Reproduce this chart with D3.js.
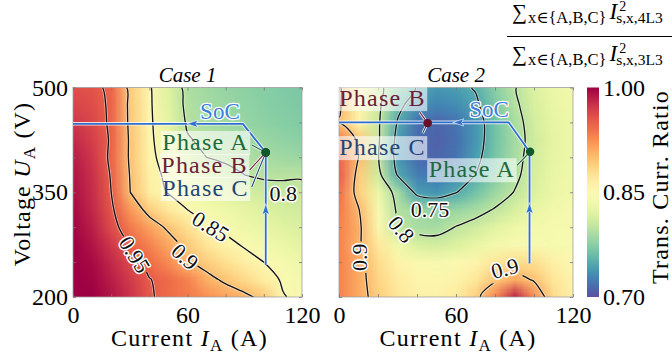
<!DOCTYPE html>
<html>
<head>
<meta charset="utf-8">
<script src="https://cdn.jsdelivr.net/npm/d3@7/dist/d3.min.js"></script>
<style>
  body { margin: 0; background: #fff; }
  svg { font-family: "Liberation Serif", "DejaVu Serif", serif; }
</style>
</head>
<body>
<svg id="chart" width="672" height="356"></svg>
<script>
// grid of the maps: columns = current (A), rows = voltage (V), top row first
const currents = [0, 10, 20, 30, 40, 50, 60, 70, 80, 90, 100, 110, 120];
const voltages = [500, 475, 450, 425, 400, 375, 350, 325, 300, 275, 250, 225, 200];

// transformer current ratio sum(I^2 4L3) / sum(I^2 3L3)
const case1Ratio = [
  [0.958, 0.956, 0.945, 0.890, 0.854, 0.818, 0.792, 0.786, 0.781, 0.777, 0.774, 0.771, 0.769],
  [0.965, 0.960, 0.946, 0.892, 0.855, 0.820, 0.794, 0.788, 0.783, 0.779, 0.775, 0.772, 0.770],
  [0.972, 0.963, 0.946, 0.893, 0.856, 0.823, 0.797, 0.791, 0.786, 0.781, 0.777, 0.774, 0.772],
  [0.980, 0.968, 0.947, 0.895, 0.857, 0.828, 0.802, 0.795, 0.791, 0.787, 0.783, 0.779, 0.776],
  [0.986, 0.972, 0.945, 0.895, 0.858, 0.836, 0.818, 0.800, 0.796, 0.793, 0.789, 0.786, 0.783],
  [0.990, 0.976, 0.948, 0.898, 0.862, 0.843, 0.830, 0.818, 0.807, 0.800, 0.797, 0.797, 0.798],
  [0.992, 0.978, 0.950, 0.900, 0.865, 0.848, 0.838, 0.828, 0.820, 0.813, 0.808, 0.806, 0.805],
  [0.995, 0.980, 0.955, 0.920, 0.890, 0.870, 0.850, 0.840, 0.832, 0.825, 0.818, 0.813, 0.810],
  [0.997, 0.985, 0.960, 0.935, 0.915, 0.895, 0.877, 0.853, 0.842, 0.833, 0.826, 0.820, 0.815],
  [1.000, 0.990, 0.972, 0.948, 0.930, 0.912, 0.892, 0.873, 0.860, 0.846, 0.838, 0.830, 0.823],
  [1.000, 0.995, 0.980, 0.962, 0.942, 0.926, 0.903, 0.890, 0.877, 0.864, 0.850, 0.840, 0.832],
  [1.000, 0.998, 0.985, 0.970, 0.951, 0.942, 0.930, 0.908, 0.895, 0.882, 0.866, 0.846, 0.838],
  [1.000, 1.000, 0.990, 0.975, 0.953, 0.942, 0.935, 0.925, 0.915, 0.906, 0.893, 0.852, 0.842]
];
const case2Ratio = [
  [0.905, 0.860, 0.810, 0.775, 0.748, 0.738, 0.742, 0.752, 0.775, 0.798, 0.818, 0.830, 0.838],
  [0.905, 0.858, 0.808, 0.758, 0.735, 0.728, 0.732, 0.745, 0.770, 0.795, 0.815, 0.828, 0.835],
  [0.898, 0.860, 0.805, 0.748, 0.718, 0.712, 0.720, 0.738, 0.765, 0.790, 0.812, 0.826, 0.833],
  [0.935, 0.895, 0.805, 0.740, 0.715, 0.710, 0.718, 0.738, 0.765, 0.788, 0.810, 0.825, 0.832],
  [0.945, 0.900, 0.802, 0.738, 0.715, 0.712, 0.720, 0.742, 0.768, 0.790, 0.812, 0.826, 0.833],
  [0.950, 0.890, 0.810, 0.748, 0.725, 0.722, 0.732, 0.750, 0.772, 0.793, 0.815, 0.828, 0.834],
  [0.940, 0.888, 0.830, 0.788, 0.742, 0.736, 0.749, 0.765, 0.785, 0.801, 0.818, 0.830, 0.836],
  [0.935, 0.902, 0.845, 0.795, 0.785, 0.778, 0.782, 0.790, 0.802, 0.815, 0.828, 0.837, 0.840],
  [0.930, 0.908, 0.850, 0.802, 0.790, 0.789, 0.801, 0.810, 0.822, 0.832, 0.838, 0.840, 0.840],
  [0.930, 0.905, 0.870, 0.835, 0.815, 0.812, 0.818, 0.828, 0.838, 0.845, 0.845, 0.840, 0.840],
  [0.930, 0.910, 0.880, 0.860, 0.848, 0.845, 0.848, 0.858, 0.872, 0.880, 0.878, 0.862, 0.850],
  [0.930, 0.910, 0.885, 0.867, 0.857, 0.855, 0.860, 0.872, 0.895, 0.912, 0.897, 0.872, 0.858],
  [0.930, 0.910, 0.890, 0.872, 0.862, 0.860, 0.868, 0.890, 0.930, 0.985, 0.925, 0.880, 0.862]
];

const case1Levels = [0.8, 0.85, 0.9, 0.95];
const case2Levels = [0.75, 0.8, 0.9];

const xTicks = [0, 60, 120];
const xMinorTicks = [0, 20, 40, 60, 80, 100, 120];
const yTicks = [200, 350, 500];
const yMinorTicks = [200, 250, 300, 350, 400, 450, 500];
const colorTicks = [0.70, 0.85, 1.00];

// state-of-charge trajectory [current, voltage]
const case1Soc = [[101, 246], [101, 407], [89, 448], [0, 448]];
const case2Soc = [[97.7, 248], [97.7, 408], [87, 450], [0, 450]];

// final operating point of every phase [name, current, voltage]
const case1Phases = [["Phase A", 101, 407], ["Phase B", 101, 407], ["Phase C", 101, 407]];
const case2Phases = [["Phase A", 98, 408], ["Phase B", 45.5, 449], ["Phase C", 45.5, 449]];

// contour label spots [level, current, voltage, angle]
const case1Labels = [[0.95, 32.4, 261, 58], [0.9, 58.7, 258, 42], [0.85, 72.2, 301, 32], [0.8, 110.2, 348, 0]];
const case2Labels = [[0.9, 10.5, 257, -90], [0.8, 32, 297, 50], [0.75, 46.7, 325, 0], [0.9, 85, 241, -15]];

const svg = d3.select("#chart");
const plotTop = 87.5, plotBottom = 297;
const y = d3.scaleLinear().domain([200, 500]).range([plotBottom, plotTop]);
const color = d3.scaleSequential(t => d3.interpolateSpectral(1 - t)).domain([0.70, 1.00]).clamp(true);
const phaseText = { "Phase A": "#1e6a3c", "Phase B": "#6c1d3a", "Phase C": "#1f4677" };
const phaseDot = { "Phase A": "#0e5a2c", "Phase B": "#6a0f28", "Phase C": "#1f4677" };
const socBlue = "#2f6fcc";
const defs = svg.append("defs");

const panels = [
  { id: "c1", title: "Case 1", left: 73, right: 302, ratio: case1Ratio, levels: case1Levels,
    soc: case1Soc, phases: case1Phases, labels: case1Labels,
    // text end offset from the point, leader start offset from text end
    notes: { "Phase A": [-17, -2.5, 3, -5], "Phase B": [-18, 20.5, 2, -3], "Phase C": [-17, 43.5, 3, -9] } },
  { id: "c2", title: "Case 2", left: 339, right: 573, ratio: case2Ratio, levels: case2Levels,
    soc: case2Soc, phases: case2Phases, labels: case2Labels,
    notes: { "Phase A": [-15, 25.5, 2, -12], "Phase B": [-2, -17, -6, 6], "Phase C": [-2, 32, -3, -22] } }
];

function halo(sel, w) {
  return sel.attr("stroke", "#fff").attr("stroke-width", w).attr("stroke-linejoin", "round").attr("paint-order", "stroke");
}

function fieldImage(grid) {
  const rows = grid.length, cols = grid[0].length;
  const cv = document.createElement("canvas");
  cv.width = cols; cv.height = rows;
  const ctx = cv.getContext("2d");
  const img = ctx.createImageData(cols, rows);
  grid.forEach((row, j) => row.forEach((v, i) => {
    const c = d3.rgb(color(v)), k = 4 * (j * cols + i);
    img.data[k] = c.r; img.data[k + 1] = c.g; img.data[k + 2] = c.b; img.data[k + 3] = 255;
  }));
  ctx.putImageData(img, 0, 0);
  return cv.toDataURL();
}

function tickStyle(sel) {
  sel.select(".domain").remove();
  sel.selectAll(".tick line").attr("stroke", "#777").attr("stroke-width", 0.8);
}
function labelStyle(sel) {
  sel.attr("font-family", null).attr("font-size", 24);
  sel.select(".domain").remove();
  sel.selectAll(".tick line").remove();
}

panels.forEach(p => {
  const x = d3.scaleLinear().domain([0, 120]).range([p.left, p.right]);
  const cols = currents.length, rows = voltages.length;
  const cw = (p.right - p.left) / (cols - 1), ch = (plotBottom - plotTop) / (rows - 1);
  const g = svg.append("g");

  defs.append("clipPath").attr("id", p.id + "clip")
    .append("rect").attr("x", p.left).attr("y", plotTop)
    .attr("width", p.right - p.left).attr("height", plotBottom - plotTop);

  // heat map, grid samples sit on pixel centres
  g.append("image")
    .attr("href", fieldImage(p.ratio))
    .attr("x", p.left - cw / 2).attr("y", plotTop - ch / 2)
    .attr("width", cw * cols).attr("height", ch * rows)
    .attr("preserveAspectRatio", "none")
    .attr("clip-path", `url(#${p.id}clip)`);

  // contour labels first so their boxes can cut the lines
  const labelG = svg.append("g");
  const mask = defs.append("mask").attr("id", p.id + "mask").attr("maskUnits", "userSpaceOnUse")
    .attr("x", 0).attr("y", 0).attr("width", 672).attr("height", 356);
  mask.append("rect").attr("width", 672).attr("height", 356).attr("fill", "#fff");

  const gx = d3.scaleLinear().domain([0.5, cols - 0.5]).range([x(currents[0]), x(currents[cols - 1])]);
  const gy = d3.scaleLinear().domain([0.5, rows - 0.5]).range([y(voltages[0]), y(voltages[rows - 1])]);
  const contours = d3.contours().size([cols, rows]).thresholds(p.levels)(p.ratio.flat());
  const line = d3.line().x(d => gx(d[0])).y(d => gy(d[1])).curve(d3.curveCatmullRom.alpha(0.5));

  const lineG = g.append("g").attr("clip-path", `url(#${p.id}clip)`)
    .append("g").attr("mask", `url(#${p.id}mask)`).attr("fill", "none");
  contours.forEach(c => c.coordinates.forEach(poly => poly.forEach(ring => {
    lineG.append("path").attr("d", line(ring)).attr("stroke", "#fff").attr("stroke-opacity", 0.55).attr("stroke-width", 2.8);
    lineG.append("path").attr("d", line(ring)).attr("stroke", "#141414").attr("stroke-width", 1.35);
  })));

  p.labels.forEach(([lv, li, lu, ang]) => {
    const tr = `translate(${x(li)},${y(lu)}) rotate(${ang})`;
    const t = labelG.append("text").attr("transform", tr)
      .attr("text-anchor", "middle").attr("dy", "0.35em")
      .attr("font-size", 22).attr("fill", "#111")
      .text(String(lv));
    halo(t, 3);
    const b = t.node().getBBox();
    mask.append("rect").attr("transform", tr)
      .attr("x", b.x - 2).attr("y", b.y + 1).attr("width", b.width + 4).attr("height", b.height - 2)
      .attr("fill", "#000");
  });
  labelG.raise();

  // frame and inward ticks
  g.append("rect").attr("x", p.left).attr("y", plotTop)
    .attr("width", p.right - p.left).attr("height", plotBottom - plotTop)
    .attr("fill", "none").attr("stroke", "#a0a0a0").attr("stroke-width", 0.8);
  g.append("g").attr("transform", `translate(0,${plotBottom})`)
    .call(d3.axisBottom(x).tickValues(xMinorTicks).tickSize(-3).tickFormat("")).call(tickStyle);
  g.append("g").attr("transform", `translate(0,${plotTop})`)
    .call(d3.axisTop(x).tickValues(xMinorTicks).tickSize(-3).tickFormat("")).call(tickStyle);
  g.append("g").attr("transform", `translate(${p.left},0)`)
    .call(d3.axisLeft(y).tickValues(yMinorTicks).tickSize(-3).tickFormat("")).call(tickStyle);
  g.append("g").attr("transform", `translate(${p.right},0)`)
    .call(d3.axisRight(y).tickValues(yMinorTicks).tickSize(-3).tickFormat("")).call(tickStyle);

  // tick labels
  g.append("g").attr("transform", `translate(0,${plotBottom})`)
    .call(d3.axisBottom(x).tickValues(xTicks).tickSize(0).tickPadding(9)).call(labelStyle);
  if (p.id === "c1") {
    g.append("g").attr("transform", `translate(${p.left},0)`)
      .call(d3.axisLeft(y).tickValues(yTicks).tickSize(0).tickPadding(5)).call(labelStyle);
  }

  // title and x label
  svg.append("text").attr("x", (p.left + p.right) / 2).attr("y", 82)
    .attr("text-anchor", "middle").attr("font-size", 21).attr("font-style", "italic")
    .text(p.title);
  const xl = svg.append("text").attr("x", (p.left + p.right) / 2 + 2).attr("y", 346)
    .attr("text-anchor", "middle").attr("font-size", 24).attr("letter-spacing", 1.3);
  xl.append("tspan").text("Current ");
  xl.append("tspan").attr("font-style", "italic").text("I");
  xl.append("tspan").attr("font-size", 17).attr("dy", 5).text("A");
  xl.append("tspan").attr("dy", -5).text(" (A)");

  // state-of-charge trajectory
  const socLine = d3.line().x(d => x(d[0])).y(d => y(d[1]));
  const socG = svg.append("g");
  socG.append("path").attr("d", socLine(p.soc)).attr("fill", "none")
    .attr("stroke", "#fff").attr("stroke-opacity", 0.8).attr("stroke-width", 3.6).attr("stroke-linejoin", "round");
  socG.append("path").attr("d", socLine(p.soc)).attr("fill", "none")
    .attr("stroke", socBlue).attr("stroke-width", 1.8).attr("stroke-linejoin", "round");
  [[0, 0.5], [2, 0.3]].forEach(([seg, f]) => {
    const a = p.soc[seg], b = p.soc[seg + 1];
    const x0 = x(a[0]), y0 = y(a[1]), x1 = x(b[0]), y1 = y(b[1]);
    const px = x0 + (x1 - x0) * f, py = y0 + (y1 - y0) * f;
    const ang = Math.atan2(y1 - y0, x1 - x0) * 180 / Math.PI;
    socG.append("path").attr("transform", `translate(${px},${py}) rotate(${ang})`)
      .attr("d", "M5,0L-6,-3.6L-4,0L-6,3.6Z")
      .attr("fill", socBlue).attr("stroke", "#fff").attr("stroke-width", 0.6);
  });
  const corner = p.soc[2];
  halo(svg.append("text").attr("x", x(77)).attr("y", y(corner[1]) - 5)
    .attr("text-anchor", "middle").attr("font-size", 23).attr("fill", "#3d80d8")
    .text("SoC"), 2.5);

  // phase annotations
  const noteG = svg.append("g");
  const boxG = noteG.append("g");
  const leadG = noteG.append("g");
  const dotG = noteG.append("g");
  const textG = noteG.append("g");
  p.phases.slice().reverse().forEach(([name, pi, pu]) => {
    const [dx, dy, lx, ly] = p.notes[name];
    const px = x(pi), py = y(pu);
    const tx = px + dx, ty = py + dy;
    const t = textG.append("text").attr("x", tx).attr("y", ty)
      .attr("text-anchor", "end").attr("font-size", 24).attr("letter-spacing", 1.2)
      .attr("fill", phaseText[name]).text(name);
    const b = t.node().getBBox();
    boxG.append("rect").attr("x", b.x - 1.5).attr("y", b.y + 2).attr("width", b.width + 3).attr("height", b.height - 2)
      .attr("fill", "#fff").attr("fill-opacity", 0.6);
    const seg = [[tx + lx, ty + ly], [px, py]];
    leadG.append("path").attr("d", d3.line()(seg)).attr("stroke", "#fff").attr("stroke-width", 2.6);
    leadG.append("path").attr("d", d3.line()(seg)).attr("stroke", phaseText[name]).attr("stroke-width", 1.1);
    dotG.append("circle").attr("cx", px).attr("cy", py).attr("r", 4.2).attr("fill", phaseDot[name]);
  });
});

// colour bar
const cbX = 587, cbW = 12;
const cbScale = d3.scaleLinear().domain([0.70, 1.00]).range([plotBottom, plotTop]);
const grad = defs.append("linearGradient").attr("id", "cbar").attr("x1", 0).attr("y1", 1).attr("x2", 0).attr("y2", 0);
d3.range(0, 1.0001, 0.05).forEach(t => {
  grad.append("stop").attr("offset", t).attr("stop-color", color(0.70 + 0.30 * t));
});
svg.append("rect").attr("x", cbX).attr("y", plotTop).attr("width", cbW).attr("height", plotBottom - plotTop)
  .attr("fill", "url(#cbar)");
svg.append("g").attr("transform", `translate(${cbX + cbW},0)`)
  .call(d3.axisRight(cbScale).tickValues(colorTicks).tickFormat(d3.format(".2f")).tickSize(0).tickPadding(4))
  .call(labelStyle);
svg.append("text").attr("transform", "translate(668,187) rotate(-90)")
  .attr("text-anchor", "middle").attr("font-size", 24).attr("letter-spacing", 1.2)
  .text("Trans. Curr. Ratio");

// y label
const yl = svg.append("text").attr("transform", "translate(30,184) rotate(-90)")
  .attr("text-anchor", "middle").attr("font-size", 24).attr("letter-spacing", 1.2);
yl.append("tspan").text("Voltage ");
yl.append("tspan").attr("font-style", "italic").text("U");
yl.append("tspan").attr("font-size", 17).attr("dy", 5).text("A");
yl.append("tspan").attr("dy", -5).text(" (V)");

// ratio definition above the colour bar
function sumTerm(base, sub) {
  const tg = svg.append("g");
  let cx = 512;
  const sig = tg.append("text").attr("x", cx).attr("y", base).attr("font-size", 21).text("\u2211");
  cx += sig.node().getComputedTextLength() + 1;
  const s1 = tg.append("text").attr("x", cx).attr("y", base + 4).attr("font-size", 16.5).text("x\u2208{A,B,C}");
  cx += s1.node().getComputedTextLength() + 3;
  const it = tg.append("text").attr("x", cx).attr("y", base).attr("font-size", 23).attr("font-style", "italic").text("I");
  cx += it.node().getComputedTextLength();
  tg.append("text").attr("x", cx + 2).attr("y", base - 8).attr("font-size", 14).text("2");
  tg.append("text").attr("x", cx - 1).attr("y", base + 4).attr("font-size", 15.5).text(sub);
}
sumTerm(19, "s,x,4L3");
sumTerm(61, "s,x,3L3");
svg.append("line").attr("x1", 507).attr("x2", 672).attr("y1", 36.5).attr("y2", 36.5)
  .attr("stroke", "#000").attr("stroke-width", 1);
</script>
</body>
</html>
